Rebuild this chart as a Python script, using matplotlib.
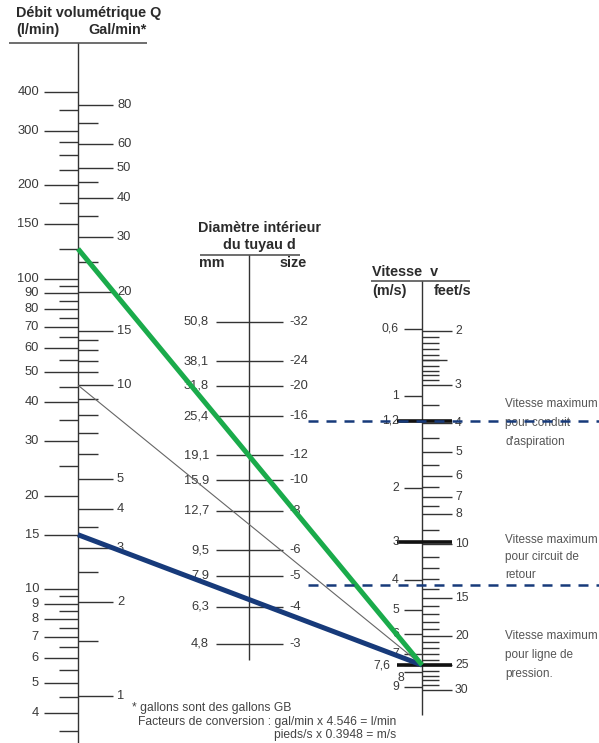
import matplotlib.pyplot as plt
import numpy as np

plt.rcParams['font.family'] = ['Liberation Sans', 'DejaVu Sans']

# --- données du nomogramme ---
# débit Q (l/min), graduations côté gauche
q_major = [400, 300, 200, 150, 100, 90, 80, 70, 60, 50, 40, 30, 20, 15, 10, 9, 8, 7, 6, 5, 4]
q_minor = [350, 275, 250, 225, 175, 125, 95, 85, 75, 65, 55, 45, 35, 25,
           9.5, 8.5, 7.5, 6.5, 5.5, 4.5, 3.5]
# débit en gallons GB / min, côté droit
gal_major = [80, 60, 50, 40, 30, 20, 15, 10, 5, 4, 3, 2, 1]
gal_minor = [70, 45, 35, 25, 14, 13, 12, 11, 9, 8, 7, 6, 3.5, 2.5, 1.5]
GAL_TO_L = 4.546

# diamètre intérieur
d_mm = [50.8, 38.1, 31.8, 25.4, 19.1, 15.9, 12.7, 9.5, 7.9, 6.3, 4.8]
d_size = ['-32', '-24', '-20', '-16', '-12', '-10', '-8', '-6', '-5', '-4', '-3']

# vitesse
v_ms = [0.6, 1, 1.2, 2, 3, 4, 5, 6, 7, 7.6, 8, 9]
v_ft_major = [2, 3, 4, 5, 6, 7, 8, 10, 15, 20, 25, 30]
v_ft_minor = [2.1, 2.2, 2.3, 2.4, 2.5, 2.6, 2.7, 2.8, 2.9, 3.5, 4.5, 5.5, 6.5, 7.5, 9,
              11, 12, 13, 14, 16, 17, 18, 19, 21, 22, 23, 24, 26, 27, 28, 29]
FT_TO_M = 0.3048
v_max = [1.2, 3, 7.6]          # vitesses maximum (aspiration, retour, pression)
v_limits = [1.2, 4.15]

# exemples de lecture : Q de départ -> v = 7,6 m/s
ex_q = [125, 10 * GAL_TO_L, 15]
ex_v = 7.6
ex_colors = ['#1aab4b', '#666666', '#173a7a']
ex_widths = [3.6, 0.8, 3.6]
ex_z = [5, 3, 4]

NAVY = '#173a7a'
TXT = '#3a3a3a'
HDR = '#2b2b2b'


# échelles logarithmiques (position verticale en pixels)
def y_q(q):
    return 899.9 - 310.5 * np.log10(q)


def y_d(d):
    return 857.5 - 314.0 * np.log10(d)


def y_v(v):
    return 396.4 + 305.0 * np.log10(v)


X_Q, X_D, X_V = 78, 249, 422

fig = plt.figure(figsize=(5.99, 7.43), dpi=100)
ax = fig.add_axes([0, 0, 1, 1])
ax.set_xlim(0, 599)
ax.set_ylim(743, 0)
ax.axis('off')

tk = dict(color='#333333', lw=1.0)
hd = dict(fontsize=10.4, fontweight='bold', color=HDR, va='center')

# ---- axe Q ----
ax.text(16, 13, 'Débit volumétrique Q', **hd)
ax.text(16, 30, '(l/min)', **hd)
ax.text(88, 30, 'Gal/min*', **hd)
ax.hlines(43, 9, 147, color='#555555', lw=1.2)
ax.vlines(X_Q, 43, 743, **tk)

ax.hlines(y_q(np.array(q_major)), 44, X_Q, **tk)
ax.hlines(y_q(np.array(q_minor)), 59, X_Q, **tk)
for q in q_major:
    ax.text(39, y_q(q), f'{q}', fontsize=9.3, color=TXT, ha='right', va='center')

gal_l = np.array(gal_major) * GAL_TO_L
ax.hlines(y_q(gal_l), X_Q, 113, **tk)
ax.hlines(y_q(np.array(gal_minor) * GAL_TO_L), X_Q, 98, **tk)
for g, ql in zip(gal_major, gal_l):
    ax.text(117, y_q(ql), f'{g}', fontsize=9.3, color=TXT, ha='left', va='center')

# ---- axe d ----
ax.text(260, 228, 'Diamètre intérieur', ha='center', **hd)
ax.text(259, 245, 'du tuyau d', ha='center', **hd)
ax.hlines(255, 200, 300, color='#555555', lw=1.2)
ax.text(199, 263, 'mm', **hd)
ax.text(307, 263, 'size', ha='right', **hd)
ax.vlines(X_D, 255, 660, **tk)
ax.hlines(y_d(np.array(d_mm)), 216, 283, **tk)
for d, s in zip(d_mm, d_size):
    ax.text(209, y_d(d), f'{d:.1f}'.replace('.', ','), fontsize=9.3, color=TXT, ha='right', va='center')
    ax.text(289, y_d(d), s, fontsize=9.3, color=TXT, ha='left', va='center')

# ---- axe v ----
ax.text(372, 272, 'Vitesse  v', **hd)
ax.hlines(281, 371, 470, color='#555555', lw=1.2)
ax.text(372, 291, '(m/s)', **hd)
ax.text(471, 291, 'feet/s', ha='right', **hd)
ax.vlines(X_V, 281, 715, **tk)

ax.hlines(y_v(np.array(v_ms)), 404, X_V, **tk)
label_shift = {7.6: (-9, 0), 8: (5, 6)}
for v in v_ms:
    dx, dy = label_shift.get(v, (0, 0))
    lab = f'{v:g}'.replace('.', ',')
    ax.text(399 + dx, y_v(v) + dy, lab, fontsize=8.8, color=TXT, ha='right', va='center')

ft_y = y_v(np.array(v_ft_major) * FT_TO_M)
ax.hlines(ft_y, X_V, 452, **tk)
ax.hlines(y_v(np.array(v_ft_minor) * FT_TO_M), X_V, 439, **tk)
ax.hlines(y_v(2.5 * FT_TO_M), X_V, 447, **tk)
for f, yy in zip(v_ft_major, ft_y):
    ax.text(455, yy, f'{f}', fontsize=8.8, color=TXT, ha='left', va='center')

# repères épais des vitesses maximum
ax.hlines(y_v(np.array(v_max)), 397, 452, color='#111111', lw=2.6, zorder=2)

# limites pointillées
ax.hlines(y_v(np.array(v_limits)), 308, 599, color=NAVY, lw=1.8,
          linestyles=(0, (4, 3.2)), zorder=6)

# droites d'exemple
for q, c, w, z in zip(ex_q, ex_colors, ex_widths, ex_z):
    ax.plot([X_Q, X_V], [y_q(q), y_v(ex_v)], color=c, lw=w, zorder=z,
            solid_capstyle='butt')

# ---- annotations ----
notes = ['Vitesse maximum\npour conduit\nd\'aspiration',
         'Vitesse maximum\npour circuit de\nretour',
         'Vitesse maximum\npour ligne de\npression.']
note_y = [398, 534, 630]
note_ls = [1.75, 1.6, 1.75]
for t, yy, ls in zip(notes, note_y, note_ls):
    ax.text(505, yy, t, fontsize=8.5, color='#555555', ha='left', va='top', linespacing=ls)

ft = dict(fontsize=8.7, color='#444444', va='center')
ax.text(132, 708, '* gallons sont des gallons GB', **ft)
ax.text(138, 722, 'Facteurs de conversion : gal/min x 4.546 = l/min', **ft)
ax.text(274, 735, 'pieds/s x 0.3948 = m/s', **ft)

fig.savefig('out.png', dpi=100, facecolor='white')
